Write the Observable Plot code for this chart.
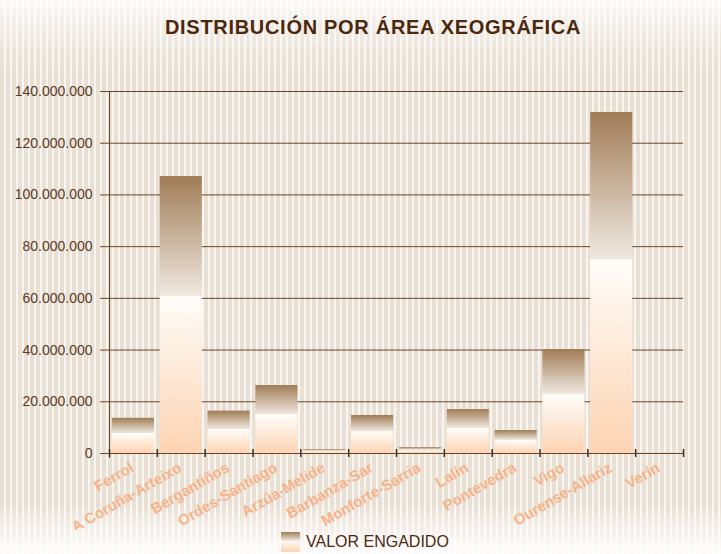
<!DOCTYPE html>
<html><head><meta charset="utf-8">
<script src="https://cdn.jsdelivr.net/npm/d3@7"></script>
<script src="https://cdn.jsdelivr.net/npm/@observablehq/plot@0.6"></script>
<style>
html,body{margin:0;padding:0;}
body{width:721px;height:554px;overflow:hidden;font-family:"Liberation Sans",Arial,sans-serif;
background:
 linear-gradient(to bottom, rgba(255,255,255,0.85) 0px, rgba(255,255,255,0.35) 30px, rgba(255,255,255,0) 70px, rgba(255,255,255,0) 505px, rgba(255,255,255,0.9) 550px),
 repeating-linear-gradient(to right, #e9e0d5 0px, #e9e0d5 4px, #f9f6f2 4px, #f9f6f2 6px);
}
#title{height:60px;box-sizing:border-box;padding-top:16px;padding-left:25px;text-align:center;font-weight:bold;font-size:20px;line-height:22px;letter-spacing:0.7px;color:#4b270c;}
#legend{display:flex;align-items:center;margin-top:2px;margin-left:281px;height:20px;}
#legend .sw{width:19px;height:20px;background:linear-gradient(to bottom,#a07c55 0%,#efe8e0 43%,#fffdfa 44%,#fdd3b2 100%);}
#legend span{margin-left:6px;font-size:16px;color:#4a2a12;}
</style>
</head><body>
<div id="title">DISTRIBUCIÓN POR ÁREA XEOGRÁFICA</div>
<div id="chart"></div>
<div id="legend"><div class="sw"></div><span>VALOR ENGADIDO</span></div>
<script>
const areas = ["Ferrol","A Coruña-Arteixo","Bergantiños","Ordes-Santiago","Arzúa-Melide","Barbanza-Sar","Monforte-Sarria","Lalín","Pontevedra","Vigo","Ourense-Allariz","Verín"];
const valores = [13600000,107100000,16400000,26300000,1500000,14700000,2300000,17000000,8900000,40200000,131900000,300000];
const yTicks = [0,20000000,40000000,60000000,80000000,100000000,120000000,140000000];
const serie = "VALOR ENGADIDO";

const data = areas.map((a,i)=>({area:a, valor:valores[i]}));
const locale = d3.formatLocale({decimal:",", thousands:".", grouping:[3], currency:["","€"]});
const fmt = locale.format(",d");

const W = 721, H = 470, mL = 109, mR = 38, mT = 31, mB = 77;
const step = (W - mL - mR) / areas.length;
const grid = "#6a4426";

const chart = Plot.plot({
  width: W, height: H,
  marginLeft: mL, marginRight: mR, marginTop: mT, marginBottom: mB,
  style: {background: "transparent", fontFamily: "'Liberation Sans', Arial, sans-serif", fontSize: "14px"},
  x: {domain: areas, type: "band", paddingInner: 0.12, paddingOuter: 0.06, round: false, axis: null},
  y: {domain: [0, 140000000], axis: null, label: null},
  marks: [
    Plot.ruleY(yTicks, {stroke: grid, strokeWidth: 1, insetLeft: -9}),
    Plot.barY(data, {x: "area", y: "valor", fill: "url(#barGrad)"}),
    Plot.ruleX([areas[0]], {x: d => d, y1: yTicks[yTicks.length-1], y2: 0, dx: -step/2, insetBottom: -5, stroke: grid}),
    Plot.ruleX(areas, {x: d => d, y1: 0, y2: 0, dx: -step/2, insetTop: -4, insetBottom: -4, stroke: "#4a2a12", strokeWidth: 1.5}),
    Plot.ruleX([areas[areas.length-1]], {x: d => d, y1: 0, y2: 0, dx: step/2, insetTop: -4, insetBottom: -4, stroke: "#4a2a12", strokeWidth: 1.5}),
    Plot.axisY({ticks: yTicks, tickFormat: fmt, tickSize: 0, tickPadding: 17, color: "#5b3a1f", fontSize: 14, label: null}),
    Plot.text(data, {x: "area", y: 0, text: "area", rotate: -30, textAnchor: "end", dx: -1, dy: 13, fill: "#f8b287", fontSize: 15, fontWeight: "bold"})
  ]
});
d3.select(chart).insert("defs", ":first-child").html(
  '<linearGradient id="barGrad" x1="0" y1="0" x2="0" y2="1">' +
  '<stop offset="0" stop-color="#a07c55"/>' +
  '<stop offset="0.43" stop-color="#efe8e0"/>' +
  '<stop offset="0.435" stop-color="#fffdfa"/>' +
  '<stop offset="1" stop-color="#fdd3b2"/>' +
  '</linearGradient>');
document.getElementById("chart").appendChild(chart);
</script>
</body></html>
